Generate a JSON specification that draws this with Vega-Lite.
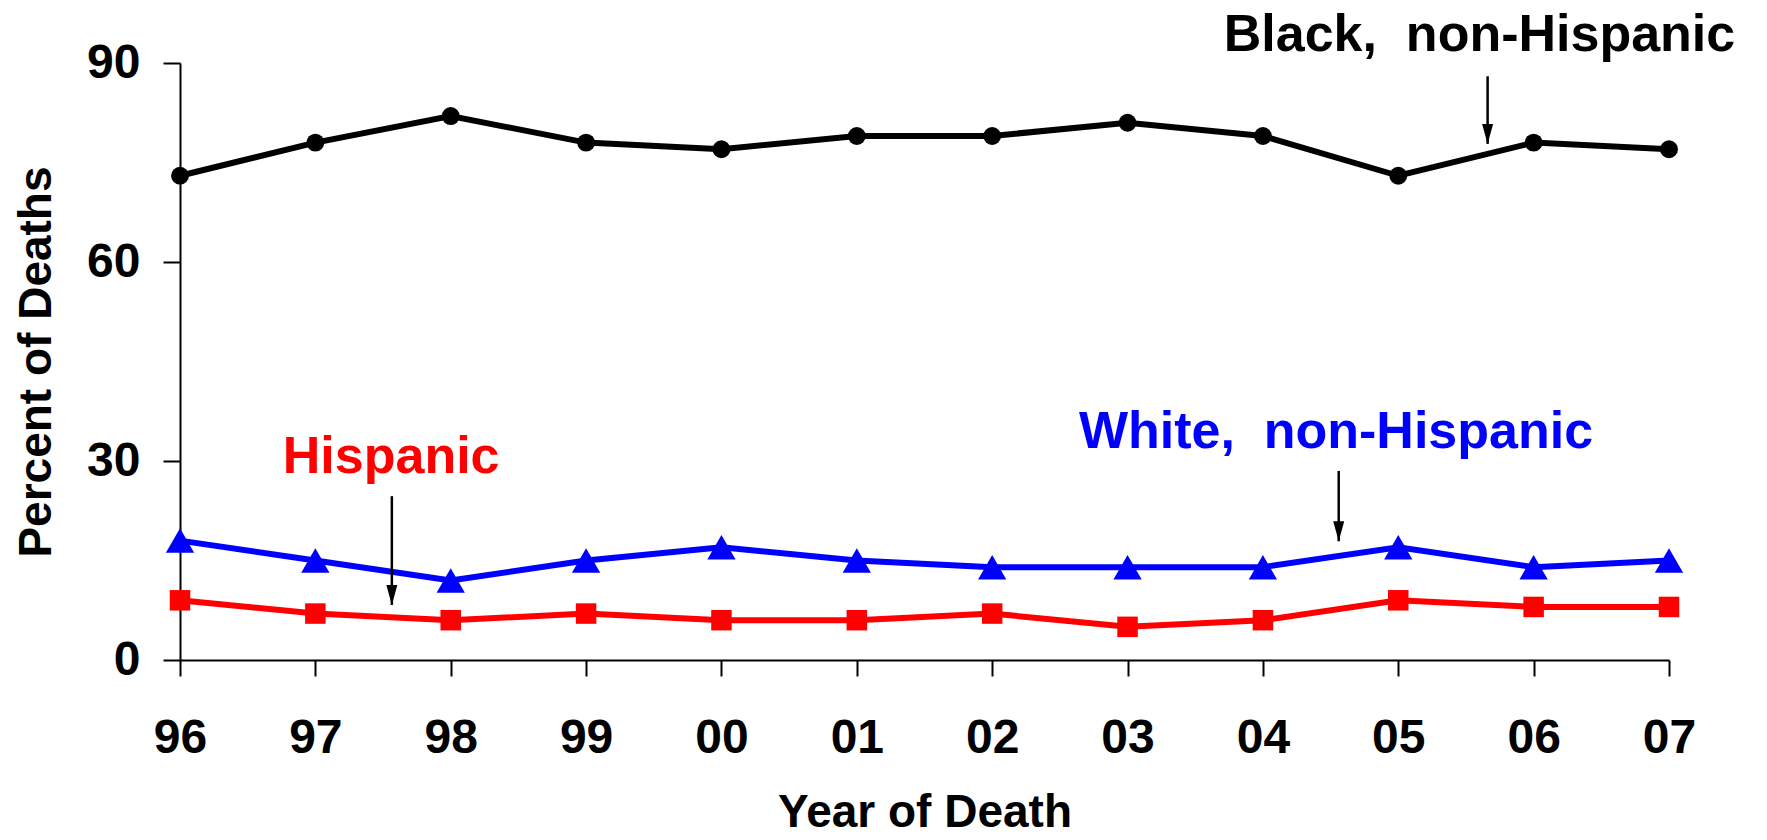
{
  "$schema": "https://vega.github.io/schema/vega-lite/v6.json",
  "width": 1489,
  "height": 597,
  "autosize": {"type": "none"},
  "padding": {"left": 180, "top": 63, "right": 98, "bottom": 180},
  "background": "white",
  "config": {
    "view": {"stroke": null},
    "axis": {
      "labelFont": "Liberation Sans", "labelFontWeight": "bold", "labelFontSize": 48, "labelColor": "black",
      "titleFont": "Liberation Sans", "titleFontWeight": "bold", "titleFontSize": 46, "titleColor": "black",
      "domainColor": "black", "tickColor": "black", "domainWidth": 2, "tickWidth": 2, "grid": false
    }
  },
  "datasets": {
    "series": [
      {"year": 1996, "value": 73, "group": "Black"},
      {"year": 1997, "value": 78, "group": "Black"},
      {"year": 1998, "value": 82, "group": "Black"},
      {"year": 1999, "value": 78, "group": "Black"},
      {"year": 2000, "value": 77, "group": "Black"},
      {"year": 2001, "value": 79, "group": "Black"},
      {"year": 2002, "value": 79, "group": "Black"},
      {"year": 2003, "value": 81, "group": "Black"},
      {"year": 2004, "value": 79, "group": "Black"},
      {"year": 2005, "value": 73, "group": "Black"},
      {"year": 2006, "value": 78, "group": "Black"},
      {"year": 2007, "value": 77, "group": "Black"},
      {"year": 1996, "value": 18, "group": "White"},
      {"year": 1997, "value": 15, "group": "White"},
      {"year": 1998, "value": 12, "group": "White"},
      {"year": 1999, "value": 15, "group": "White"},
      {"year": 2000, "value": 17, "group": "White"},
      {"year": 2001, "value": 15, "group": "White"},
      {"year": 2002, "value": 14, "group": "White"},
      {"year": 2003, "value": 14, "group": "White"},
      {"year": 2004, "value": 14, "group": "White"},
      {"year": 2005, "value": 17, "group": "White"},
      {"year": 2006, "value": 14, "group": "White"},
      {"year": 2007, "value": 15, "group": "White"},
      {"year": 1996, "value": 9, "group": "Hispanic"},
      {"year": 1997, "value": 7, "group": "Hispanic"},
      {"year": 1998, "value": 6, "group": "Hispanic"},
      {"year": 1999, "value": 7, "group": "Hispanic"},
      {"year": 2000, "value": 6, "group": "Hispanic"},
      {"year": 2001, "value": 6, "group": "Hispanic"},
      {"year": 2002, "value": 7, "group": "Hispanic"},
      {"year": 2003, "value": 5, "group": "Hispanic"},
      {"year": 2004, "value": 6, "group": "Hispanic"},
      {"year": 2005, "value": 9, "group": "Hispanic"},
      {"year": 2006, "value": 8, "group": "Hispanic"},
      {"year": 2007, "value": 8, "group": "Hispanic"}
    ],
    "labels": [
      {"year": 2005.6, "value": 91.8, "label": "Black,\u00a0 non-Hispanic", "group": "Black"},
      {"year": 2004.54, "value": 31.9, "label": "White,\u00a0 non-Hispanic", "group": "White"},
      {"year": 1997.56, "value": 28.2, "label": "Hispanic", "group": "Hispanic"}
    ],
    "arrows": [
      {"year": 2005.66, "value": 88.0, "value2": 77.8},
      {"year": 2004.56, "value": 28.5, "value2": 17.9},
      {"year": 1997.565, "value": 24.7, "value2": 8.3}
    ]
  },
  "layer": [
    {
      "data": {"name": "series"},
      "mark": {"type": "line", "strokeWidth": 6},
      "encoding": {
        "x": {
          "field": "year", "type": "quantitative",
          "scale": {"domain": [1996, 2007], "nice": false, "zero": false},
          "axis": {
            "title": "Year of Death",
            "values": [1996, 1997, 1998, 1999, 2000, 2001, 2002, 2003, 2004, 2005, 2006, 2007],
            "labelExpr": "substring(toString(datum.value), 2, 4)",
            "tickSize": 16, "labelPadding": 76, "labelBaseline": "alphabetic",
            "labelFlush": false, "labelOverlap": false,
            "titleY": 166, "titleBaseline": "alphabetic"
          }
        },
        "y": {
          "field": "value", "type": "quantitative",
          "scale": {"domain": [0, 90], "nice": false},
          "axis": {
            "title": "Percent of Deaths",
            "values": [0, 30, 60, 90],
            "tickSize": 17, "labelPadding": 23,
            "titleX": -130, "titleY": 298.5, "titleBaseline": "alphabetic", "titleAngle": -90
          }
        },
        "color": {
          "field": "group", "type": "nominal",
          "scale": {"domain": ["Black", "White", "Hispanic"], "range": ["#000000", "#0000FF", "#FF0000"]},
          "legend": null
        },
        "detail": {"field": "group"}
      }
    },
    {
      "data": {"name": "series"},
      "transform": [{"filter": "datum.group === 'Black'"}],
      "mark": {"type": "point", "filled": true, "opacity": 1, "shape": "circle", "size": 320, "color": "#000000"},
      "encoding": {
        "x": {"field": "year", "type": "quantitative"},
        "y": {"field": "value", "type": "quantitative"}
      }
    },
    {
      "data": {"name": "series"},
      "transform": [{"filter": "datum.group === 'White'"}],
      "mark": {"type": "point", "filled": true, "opacity": 1, "shape": "triangle-up", "size": 800, "color": "#0000FF"},
      "encoding": {
        "x": {"field": "year", "type": "quantitative"},
        "y": {"field": "value", "type": "quantitative"}
      }
    },
    {
      "data": {"name": "series"},
      "transform": [{"filter": "datum.group === 'Hispanic'"}],
      "mark": {"type": "point", "filled": true, "opacity": 1, "shape": "square", "size": 420, "color": "#FF0000"},
      "encoding": {
        "x": {"field": "year", "type": "quantitative"},
        "y": {"field": "value", "type": "quantitative"}
      }
    },
    {
      "data": {"name": "labels"},
      "mark": {"type": "text", "font": "Liberation Sans", "fontWeight": "bold", "fontSize": 52, "align": "center", "baseline": "alphabetic"},
      "encoding": {
        "x": {"field": "year", "type": "quantitative"},
        "y": {"field": "value", "type": "quantitative"},
        "text": {"field": "label"},
        "color": {"field": "group", "type": "nominal", "legend": null}
      }
    },
    {
      "data": {"name": "arrows"},
      "mark": {"type": "rule", "color": "black", "strokeWidth": 2.5},
      "encoding": {
        "x": {"field": "year", "type": "quantitative"},
        "y": {"field": "value", "type": "quantitative"},
        "y2": {"field": "value2"}
      }
    },
    {
      "data": {"name": "arrows"},
      "mark": {"type": "point", "filled": true, "opacity": 1, "color": "black", "size": 400, "shape": "M-0.55,-2L0.55,-2L0,0Z"},
      "encoding": {
        "x": {"field": "year", "type": "quantitative"},
        "y": {"field": "value2", "type": "quantitative"}
      }
    }
  ]
}
